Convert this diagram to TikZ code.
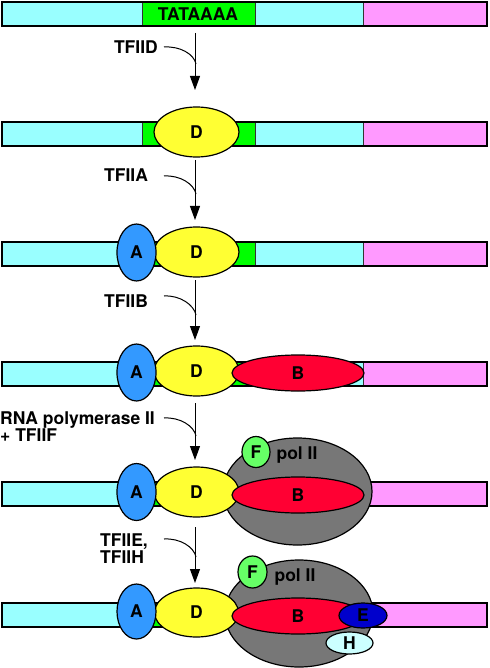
\documentclass[tikz,border=0pt]{standalone}
\usepackage{fontspec}
\setmainfont{TeX Gyre Heros}
\usepackage{tikz}
\usetikzlibrary{positioning, calc, arrows.meta, shapes.geometric}
\usepackage{xcolor}
\definecolor{BarCyan}{HTML}{99FFFF}
\definecolor{BarGreen}{HTML}{00FF00}
\definecolor{BarPink}{HTML}{FF99FF}
\definecolor{FacD}{HTML}{FFFF33}
\definecolor{FacA}{HTML}{3399FF}
\definecolor{FacB}{HTML}{FF0033}
\definecolor{PolGray}{HTML}{777777}
\definecolor{FacF}{HTML}{66FF66}
\definecolor{FacE}{HTML}{0000CC}
\definecolor{FacH}{HTML}{CCFFFF}

\begin{document}
\begin{tikzpicture}[x=1pt, y=-1pt, font=\bfseries\fontsize{17.5}{19}\selectfont,
  seg/.style={draw=black!80, line width=0.8pt},
  fac/.style={ellipse, draw=black, line width=1.2pt, inner sep=0pt},
  addarrow/.style={-{Triangle[length=14pt,width=10pt]}, line width=1pt},
  joinline/.style={line width=1pt},
  lbl/.style={inner sep=0pt, align=left}]
  \useasboundingbox (0,0) rectangle (489,668);
  % DNA bars
  \foreach \r/\y in {1/14, 2/134, 3/254, 4/374, 5/494, 6/615} {
    \draw[seg, fill=BarCyan] (2,\y-12) rectangle (142,\y+12);
    \draw[seg, fill=BarGreen] (142,\y-12) rectangle (255,\y+12);
    \draw[seg, fill=BarCyan] (255,\y-12) rectangle (363,\y+12);
    \draw[seg, fill=BarPink] (363,\y-12) rectangle (487,\y+12);
    \draw[line width=2pt] (2,\y-12) rectangle (487,\y+12);
  }
  \node (tata) at (198,14) {TATAAAA};

  % row 2
  \node[fac, fill=FacD, minimum width=85pt, minimum height=50pt] (D2) at (196.5,132) {D};
  % row 3
  \node[fac, fill=FacD, minimum width=85pt, minimum height=50pt] (D3) at (196.5,252) {D};
  \node[fac, fill=FacA, minimum width=39pt, minimum height=57pt] (A3) at (136.5,252.5) {A};
  % row 4
  \node[fac, fill=FacD, minimum width=85pt, minimum height=50pt] (D4) at (196.5,371) {D};
  \node[fac, fill=FacA, minimum width=39pt, minimum height=57pt] (A4) at (136.5,372.5) {A};
  \node[fac, fill=FacB, minimum width=132pt, minimum height=36pt] (B4) at (298,373) {B};
  % row 5
  \node[fac, fill=PolGray, minimum width=149pt, minimum height=107pt] (pol5) at (297.5,491.5) {};
  \node[fac, fill=FacF, minimum width=28pt, minimum height=31pt] (F5) at (256,452) {F};
  \node (poltxt5) at (297,455) {pol II};
  \node[fac, fill=FacD, minimum width=85pt, minimum height=50pt] (D5) at (196.5,492) {D};
  \node[fac, fill=FacA, minimum width=39pt, minimum height=57pt] (A5) at (136.5,492) {A};
  \node[fac, fill=FacB, minimum width=132pt, minimum height=36pt] (B5) at (298,495) {B};
  % row 6
  \node[fac, fill=PolGray, minimum width=148pt, minimum height=107pt] (pol6) at (299,613.5) {};
  \node[fac, fill=FacF, minimum width=29pt, minimum height=32pt] (F6) at (252.5,572) {F};
  \node (poltxt6) at (295,577) {pol II};
  \node[fac, fill=FacD, minimum width=84pt, minimum height=49pt] (D6) at (196.5,612.5) {D};
  \node[fac, fill=FacA, minimum width=39pt, minimum height=55pt] (A6) at (136.5,611.5) {A};
  \node[fac, fill=FacB, minimum width=132pt, minimum height=36pt] (B6) at (298,616) {B};
  \node[fac, fill=FacH, minimum width=47pt, minimum height=22pt] (H6) at (349.5,643) {H};
  \node[fac, fill=FacE, minimum width=48pt, minimum height=25pt] (E6) at (363,615.5) {E};

  % steps
  \foreach \s/\ya/\yb/\yc/\yd in {1/33/90/47/64, 2/160/220/176/194, 3/280/340/296/315,
                                   4/403/460/418/436, 5/527/583/539/557} {
    \coordinate (top\s) at (195,\ya);
    \coordinate (tip\s) at (195,\yb);
    \coordinate (from\s) at (164,\yc);
    \coordinate (join\s) at (196,\yd);
    \draw[addarrow] (top\s) -- (tip\s);
    \draw[joinline] (from\s) .. controls ($(from\s)+(16,-1)$) and ($(join\s)+(-2,-10)$) .. (join\s);
  }
  \node[lbl, left=6pt of from1] (tfiid) {TFIID};
  \node[lbl, anchor=west] (tfiia) at (104,175) {TFIIA};
  \node[lbl, anchor=west] (tfiib) at (104,301) {TFIIB};
  \node[lbl, anchor=west] (rnap) at (0,426.5) {RNA polymerase II\\[-2pt]+ TFIIF};
  \node[lbl, anchor=west] (tfiieh) at (100,548.5) {TFIIE,\\[-2pt]TFIIH};
\end{tikzpicture}
\end{document}
